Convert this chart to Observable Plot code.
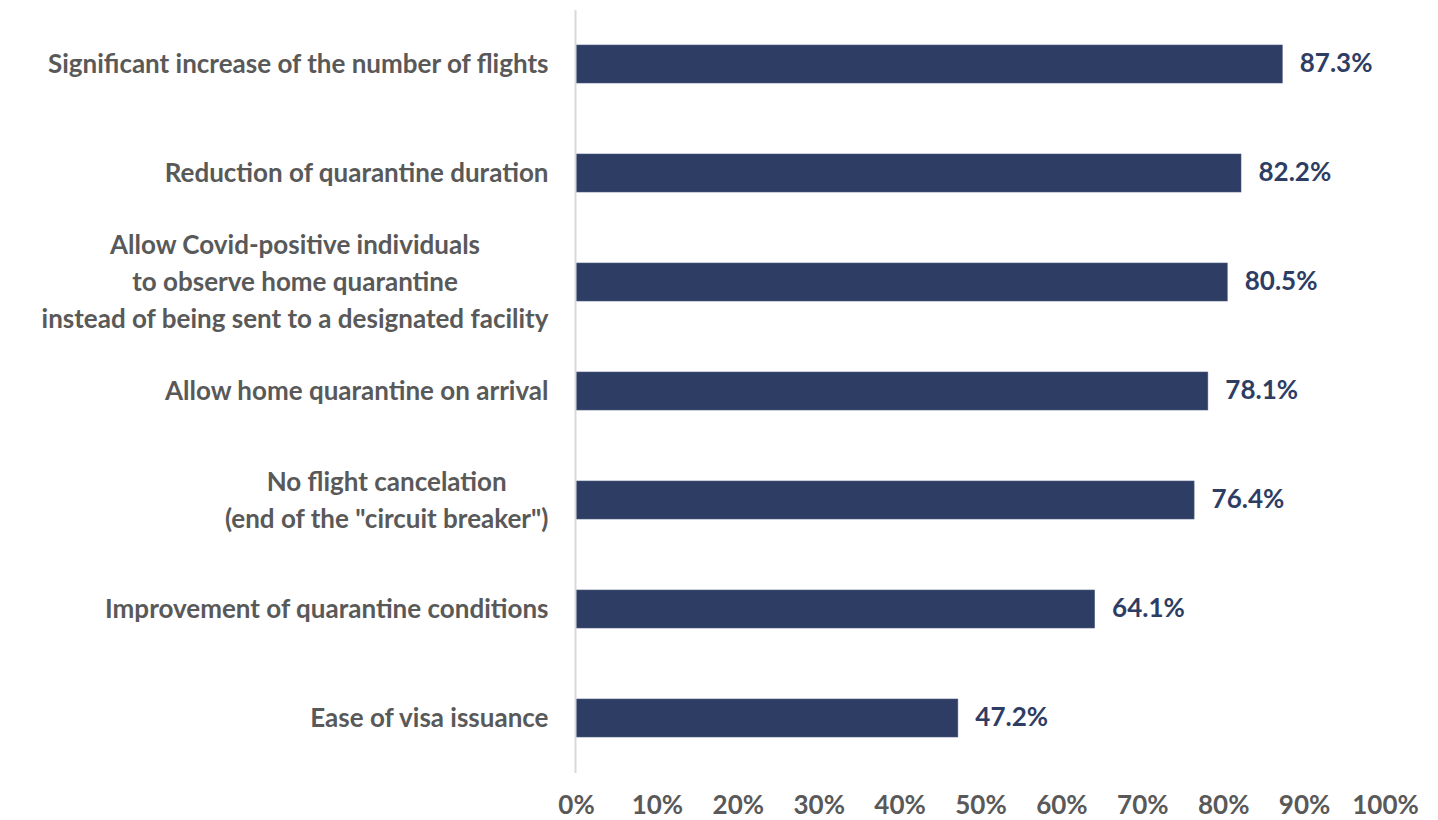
<!DOCTYPE html>
<html>
<head>
<meta charset="utf-8">
<script src="https://cdn.jsdelivr.net/npm/d3@7"></script>
<script src="https://cdn.jsdelivr.net/npm/@observablehq/plot@0.6"></script>
<style>
  html, body { margin: 0; padding: 0; background: #fff; }
  #chart svg { display: block; }
</style>
</head>
<body>
<div id="chart"></div>
<script>
const categories = [
  "Significant increase of the number of flights",
  "Reduction of quarantine duration",
  "Allow Covid-positive individuals\nto observe home quarantine\ninstead of being sent to a designated facility",
  "Allow home quarantine on arrival",
  "No flight cancelation\n(end of the \"circuit breaker\")",
  "Improvement of quarantine conditions",
  "Ease of visa issuance"
];
const values = [87.3, 82.2, 80.5, 78.1, 76.4, 64.1, 47.2];
const xTicks = [0, 10, 20, 30, 40, 50, 60, 70, 80, 90, 100];

const data = categories.map((c, i) => ({category: c, value: values[i]}));
const FONT = "Lato, 'Open Sans', sans-serif";
const FS = 26;

const plot = Plot.plot({
  width: 1438,
  height: 820,
  marginLeft: 576,
  marginRight: 53,
  marginTop: 10,
  marginBottom: 47,
  style: {fontFamily: FONT, fontWeight: "bold", background: "#fff"},
  x: {domain: [0, 100], axis: null, label: null},
  y: {domain: categories, paddingInner: 0.65, paddingOuter: 0.325, axis: null, label: null},
  marks: [
    Plot.barX(data, {x: "value", y: "category", fill: "#2E3D64", stroke: "#4a5a80", strokeWidth: 0.6}),
    Plot.ruleX([0], {stroke: "#d9d9d9", strokeWidth: 2, dx: -1}),
    Plot.text(data, {x: "value", y: "category", text: d => d.value.toFixed(1) + "%", textAnchor: "start", dx: 17, dy: -1, fill: "#2E3D64", fontSize: FS, fontWeight: "bold"}),
    Plot.axisX(xTicks, {tickSize: 0, tickPadding: 22, tickFormat: d => d + "%", fontSize: FS, fill: "#595959", fontWeight: "bold", anchor: "bottom", label: null}),
    Plot.axisY({tickSize: 0, tickPadding: 28, dy: -3, fontSize: FS, fill: "#595959", fontWeight: "bold", lineHeight: 1.42, anchor: "left", label: null})
  ]
});
document.getElementById("chart").appendChild(plot);

// center multi-line labels within their block (right edge aligned)
plot.querySelectorAll("text").forEach(t => {
  const spans = t.querySelectorAll("tspan");
  if (spans.length > 1) {
    let maxW = 0;
    spans.forEach(s => { maxW = Math.max(maxW, s.getComputedTextLength()); });
    t.setAttribute("text-anchor", "middle");
    spans.forEach(s => s.setAttribute("x", -maxW / 2));
  }
});
</script>
</body>
</html>
